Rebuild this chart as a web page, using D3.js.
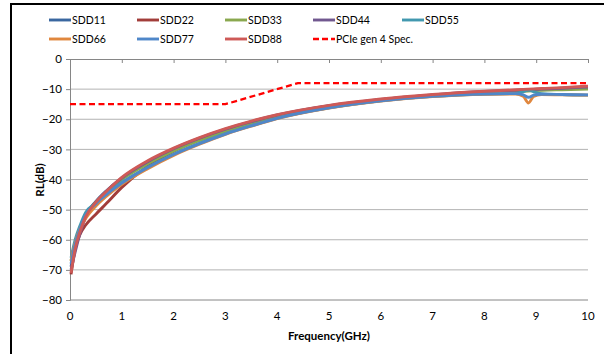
<!DOCTYPE html>
<html>
<head>
<meta charset="utf-8">
<script src="https://cdn.jsdelivr.net/npm/d3@7"></script>
<style>
  body { margin: 0; background: #fff; }
  svg { display: block; font-family: Lato, "Open Sans", sans-serif; }
</style>
</head>
<body>
<svg width="604" height="354"></svg>
<script>
// frequenze (GHz) comuni a tutte le serie
var freq = [0.02, 0.1, 0.2, 0.3, 0.5, 0.7, 1, 1.5, 2, 2.5, 3, 3.5, 4, 5, 6, 7, 8, 8.6, 8.75, 8.85, 8.95, 9.1, 9.5, 10];

var sdd11 = [-69, -62, -56.5, -52, -47.3, -43.8, -39.6, -34.3, -30.1, -26.6, -23.6, -21.0, -18.8, -15.6, -13.5, -12.0, -11.0, -10.6, -10.5, -10.4, -10.3, -10.2, -9.9, -9.5];
var sdd22 = [-71.5, -63, -58, -55.2, -51.5, -48.0, -42.6, -35.6, -30.6, -26.9, -23.8, -21.2, -18.9, -15.7, -13.5, -12.0, -10.9, -10.4, -10.3, -10.2, -10.1, -10.0, -9.7, -9.3];
var sdd33 = [-67, -61, -56, -52, -47.5, -44.2, -40.0, -34.8, -30.5, -27.0, -24.0, -21.4, -19.2, -15.9, -13.7, -12.2, -11.2, -10.8, -10.7, -10.6, -10.5, -10.4, -10.2, -10.0];
var sdd44 = [-70, -64, -57.5, -52.5, -47.5, -43.9, -39.5, -34.1, -29.8, -26.3, -23.3, -20.8, -18.6, -15.5, -13.4, -11.9, -10.8, -10.4, -10.3, -10.2, -10.1, -10.0, -9.7, -9.3];
var sdd55 = [-66, -60, -55, -51, -47.8, -44.8, -41.0, -35.9, -31.6, -28.0, -24.8, -22.1, -19.6, -16.2, -13.9, -12.4, -11.6, -11.4, -10.9, -10.3, -10.9, -11.5, -11.8, -12.0];
var sdd66 = [-67, -61, -56, -53, -48.8, -45.6, -41.6, -36.4, -32.0, -28.3, -25.0, -22.3, -19.8, -16.3, -14.0, -12.5, -11.7, -11.6, -12.4, -14.6, -12.4, -11.8, -11.9, -12.0];
var sdd77 = [-68, -61.5, -56, -51.8, -48.0, -45.0, -41.2, -36.0, -31.7, -28.1, -24.9, -22.2, -19.7, -16.2, -13.9, -12.4, -11.6, -11.5, -11.9, -12.7, -12.0, -11.7, -11.8, -11.9];
var sdd88 = [-71, -63, -57, -52.5, -47.5, -44.0, -39.3, -33.8, -29.6, -26.1, -23.1, -20.6, -18.5, -15.4, -13.3, -11.8, -10.7, -10.2, -10.1, -10.0, -9.9, -9.8, -9.5, -9.0];

var seriesNames = ["SDD11", "SDD22", "SDD33", "SDD44", "SDD55", "SDD66", "SDD77", "SDD88"];
var seriesValues = [sdd11, sdd22, sdd33, sdd44, sdd55, sdd66, sdd77, sdd88];
var seriesColors = ["#3A67A0", "#A23D3A", "#8AA84F", "#71588F", "#4298AF", "#E0873E", "#4F87C9", "#CE5A57"];

// limite PCIe gen 4
var specName = "PCIe gen 4 Spec.";
var specFreq = [0, 3, 4.4, 10];
var specVal = [-15, -15, -8, -8];

var xTicks = [0, 1, 2, 3, 4, 5, 6, 7, 8, 9, 10];
var yTicks = [0, -10, -20, -30, -40, -50, -60, -70, -80];

var svg = d3.select("svg");

// cornice esterna
svg.append("rect")
  .attr("x", 11).attr("y", 4)
  .attr("width", 640).attr("height", 400)
  .attr("fill", "none").attr("stroke", "#000").attr("stroke-width", 2);

var x = d3.scaleLinear().domain([0, 10]).range([70, 588]),
    y = d3.scaleLinear().domain([-80, 0]).range([300, 59]);

// griglia orizzontale
svg.append("g").selectAll("line")
  .data(yTicks.filter(function(d) { return d != 0 && d != -80; }))
  .join("line")
  .attr("x1", x(0)).attr("x2", x(10))
  .attr("y1", function(d) { return y(d); }).attr("y2", function(d) { return y(d); })
  .attr("stroke", "#b3b3b3").attr("stroke-width", 1);

// asse y
var yAxis = svg.append("g")
  .attr("transform", "translate(" + x(0) + ",0)")
  .call(d3.axisLeft(y).tickValues(yTicks).tickSize(4).tickPadding(4).tickFormat(d3.format("d")));
yAxis.select(".domain").attr("stroke", "#868686");
yAxis.selectAll(".tick line").attr("stroke", "#868686");
yAxis.selectAll("text").attr("font-size", 11.5).attr("fill", "#000").attr("font-family", "Lato");

// linea in basso (-80)
svg.append("line")
  .attr("x1", x(0)).attr("x2", x(10)).attr("y1", y(-80)).attr("y2", y(-80))
  .attr("stroke", "#868686");

// asse x in y = 0, con etichette in basso
var xAxis = svg.append("g")
  .attr("transform", "translate(0," + y(0) + ")")
  .call(d3.axisBottom(x).tickValues(xTicks).tickSize(4).tickFormat(""));
xAxis.select(".domain").attr("stroke", "#868686");
xAxis.selectAll(".tick line").attr("stroke", "#868686");

svg.append("g").selectAll("text")
  .data(xTicks)
  .join("text")
  .attr("x", function(d) { return x(d); })
  .attr("y", 320)
  .attr("text-anchor", "middle")
  .attr("font-size", 11.5)
  .text(function(d) { return d; });

// titoli assi
svg.append("text")
  .attr("x", 329).attr("y", 340)
  .attr("text-anchor", "middle")
  .attr("font-size", 11.5).attr("font-weight", "bold")
  .text("Frequency(GHz)");
svg.append("text")
  .attr("transform", "translate(44,180) rotate(-90)")
  .attr("text-anchor", "middle")
  .attr("font-size", 11.5).attr("font-weight", "bold")
  .text("RL(dB)");

// curve
var line = d3.line()
  .x(function(d) { return x(d[0]); })
  .y(function(d) { return y(d[1]); })
  .curve(d3.curveMonotoneX);

seriesValues.forEach(function(vals, i) {
  svg.append("path")
    .datum(freq.map(function(f, j) { return [f, vals[j]]; }))
    .attr("fill", "none")
    .attr("stroke", seriesColors[i])
    .attr("stroke-width", 2.9)
    .attr("stroke-linejoin", "round")
    .attr("d", line);
});

svg.append("path")
  .datum(specFreq.map(function(f, j) { return [f, specVal[j]]; }))
  .attr("fill", "none")
  .attr("stroke", "#ff0000")
  .attr("stroke-width", 2.3)
  .attr("stroke-dasharray", "6,3.5")
  .attr("d", d3.line().x(function(d) { return x(d[0]); }).y(function(d) { return y(d[1]); }));

// legenda
var legendItems = seriesNames.map(function(n, i) { return { name: n, color: seriesColors[i], dash: null }; });
legendItems.push({ name: specName, color: "#ff0000", dash: "6,3" });
var colX = [49, 137, 225, 313, 402];

var leg = svg.append("g").selectAll("g")
  .data(legendItems)
  .join("g")
  .attr("transform", function(d, i) { return "translate(" + colX[i % 5] + "," + (i < 5 ? 20 : 39) + ")"; });
leg.append("line")
  .attr("x1", 0).attr("x2", 22)
  .attr("stroke", function(d) { return d.color; })
  .attr("stroke-width", function(d) { return d.dash ? 2.3 : 2.9; })
  .attr("stroke-dasharray", function(d) { return d.dash; });
leg.append("text")
  .attr("x", 23).attr("y", 4)
  .attr("font-size", 10.5)
  .text(function(d) { return d.name; });
</script>
</body>
</html>
